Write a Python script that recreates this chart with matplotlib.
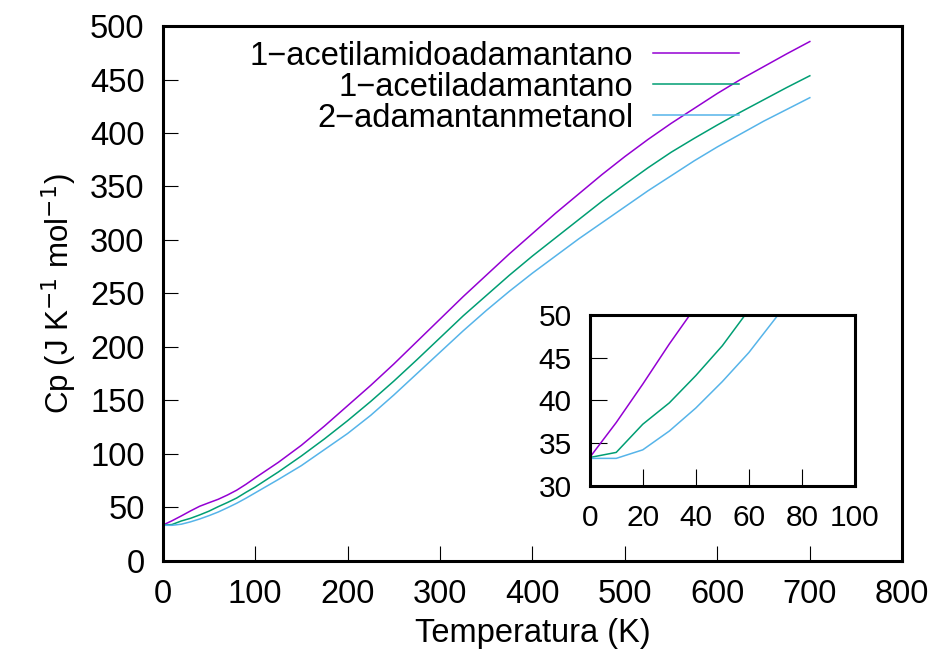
import numpy as np
import matplotlib
matplotlib.use('Agg')
import matplotlib.pyplot as plt

plt.rcParams['font.family'] = ['Liberation Sans', 'DejaVu Sans']

# Temperatura (K) y capacidad calorifica Cp (J K-1 mol-1)
temperatura = [0, 10, 20, 30, 40, 50, 60, 70, 80, 90, 100,
               125, 150, 175, 200, 225, 250, 275, 300, 325, 350, 375, 400,
               425, 450, 475, 500, 525, 550, 575, 600, 625, 650, 675, 700]
cp_acetilamido = [33.3, 37.4, 41.9, 46.6, 51.0, 54.3, 57.5, 61.5, 66.0, 71.5, 77.5,
                  92, 108, 126, 145, 164, 184, 205, 226, 247, 267, 287, 306,
                  325, 343, 361, 378, 394, 409, 423, 437, 450, 462, 474, 485.5]
cp_acetil = [33.3, 33.9, 37.2, 39.7, 42.9, 46.4, 50.6, 54.5, 58.7, 64.0, 69.0,
             83, 98, 114, 131, 149, 168, 188, 208.5, 229, 248, 267, 285,
             302, 319, 336, 352, 367.5, 382, 395, 407.5, 419.5, 431, 442.5, 453.5]
cp_metanol = [33.2, 33.2, 34.2, 36.4, 39.1, 42.2, 45.6, 49.6, 53.8, 58.5, 63.5,
              76, 89, 104, 119, 136, 155, 175, 195, 215, 234, 252, 269,
              285, 301, 316, 331, 346, 360, 374, 387, 399, 411, 422, 433]

series = [
    ("1\u2212acetilamidoadamantano", cp_acetilamido, "#9400d3"),
    ("1\u2212acetiladamantano", cp_acetil, "#009e73"),
    ("2\u2212adamantanmetanol", cp_metanol, "#56b4e9"),
]

T = np.array(temperatura)

fig = plt.figure(figsize=(9.35, 6.59), dpi=100)
ax = fig.add_axes([0.174, 0.149, 0.791, 0.8115])

for nombre, cp, color in series:
    ax.plot(T, cp, color=color, lw=1.1, label=nombre)

ax.set_xlim(0, 800)
ax.set_ylim(0, 500)
ax.set_xticks(np.arange(0, 801, 100))
ax.set_yticks(np.arange(0, 501, 50))
ax.tick_params(direction='in', length=11, width=0.8, pad=13, labelsize=23.5,
               top=False, right=False)
for s in ax.spines.values():
    s.set_linewidth(2.2)
ax.set_xlabel("Temperatura (K)", fontsize=23.5, labelpad=6)
ax.set_ylabel("Cp (J K$^{\u22121}$ mol$^{\u22121}$)", fontsize=22.5, labelpad=8)

leg = ax.legend(loc='upper right', bbox_to_anchor=(0.797, 0.997), frameon=False,
                markerfirst=False, fontsize=23.5, handlelength=2.65,
                handletextpad=0.6, labelspacing=0.0, borderaxespad=0)

# recuadro con el detalle de baja temperatura
ins = fig.add_axes([0.6307, 0.263, 0.2837, 0.259])
for nombre, cp, color in series:
    ins.plot(T, cp, color=color, lw=1.1)
ins.set_xlim(0, 100)
ins.set_ylim(30, 50)
ins.set_xticks(np.arange(0, 101, 20))
ins.set_yticks(np.arange(30, 51, 5))
ins.tick_params(direction='in', length=12, width=0.8, pad=13, labelsize=21.5,
                top=False, right=False)
for s in ins.spines.values():
    s.set_linewidth(2.2)

fig.savefig("out.png", dpi=100)
